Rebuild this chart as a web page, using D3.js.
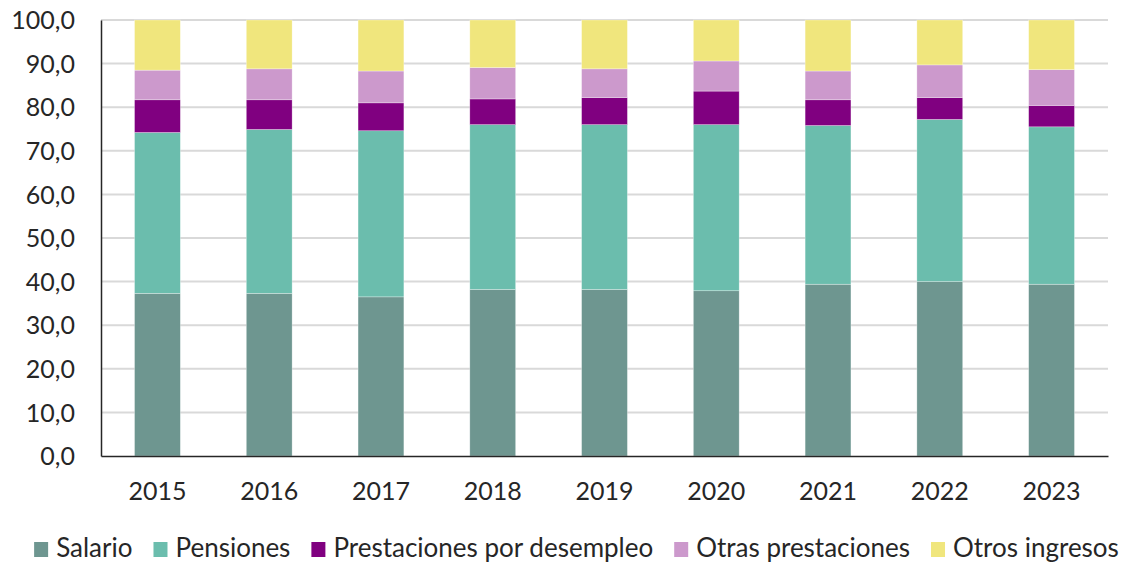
<!DOCTYPE html>
<html>
<head>
<meta charset="utf-8">
<script src="https://cdn.jsdelivr.net/npm/d3@7"></script>
<style>
  body { margin: 0; background: #fff; }
  text { font-family: Lato, "Open Sans", sans-serif; fill: #262626; }
</style>
</head>
<body>
<div id="chart"></div>
<script>
// data (percent of household income)
const years = ["2015", "2016", "2017", "2018", "2019", "2020", "2021", "2022", "2023"];
const seriesNames = ["Salario", "Pensiones", "Prestaciones por desempleo", "Otras prestaciones", "Otros ingresos"];
const salario      = [37.3, 37.3, 36.5, 38.2, 38.2, 37.9, 39.4, 40.0, 39.4];
const pensiones    = [36.9, 37.6, 38.1, 37.8, 37.8, 38.1, 36.4, 37.2, 36.1];
const desempleo    = [7.5, 6.8, 6.4, 5.9, 6.2, 7.7, 5.9, 5.0, 4.9];
const otrasPrest   = [6.8, 7.1, 7.3, 7.2, 6.6, 6.9, 6.6, 7.5, 8.2];
const otrosIngr    = [11.5, 11.2, 11.7, 10.9, 11.2, 9.4, 11.7, 10.3, 11.4];
const yTicks = [0, 10, 20, 30, 40, 50, 60, 70, 80, 90, 100];
const colors = ["#6e9690", "#6bbdad", "#800080", "#cc99cc", "#f0e67d"];

const W = 1128, H = 564;
const m = {top: 20, right: 20, bottom: 108, left: 101};

const rows = years.map((y, i) => ({
  year: y,
  "Salario": salario[i],
  "Pensiones": pensiones[i],
  "Prestaciones por desempleo": desempleo[i],
  "Otras prestaciones": otrasPrest[i],
  "Otros ingresos": otrosIngr[i]
}));

const svg = d3.select("#chart").append("svg")
  .attr("width", W)
  .attr("height", H);

const x = d3.scaleBand().domain(years)
  .range([m.left, W - m.right])
  .paddingInner(0.59).paddingOuter(0.3);
const y = d3.scaleLinear().domain([0, 100]).range([H - m.bottom, m.top]);

// gridlines
svg.append("g").selectAll("line")
  .data(yTicks.slice(1))
  .join("line")
  .attr("x1", m.left).attr("x2", W - m.right)
  .attr("y1", d => y(d)).attr("y2", d => y(d))
  .attr("stroke", "#d9d9d9").attr("stroke-width", 2);

// stacked bars
const stacked = d3.stack().keys(seriesNames)(rows);
svg.append("g").selectAll("g")
  .data(stacked)
  .join("g")
  .attr("fill", (d, i) => colors[i])
  .selectAll("rect")
  .data(d => d)
  .join("rect")
  .attr("x", d => x(d.data.year))
  .attr("width", x.bandwidth())
  .attr("y", d => y(Math.min(d[1], 100)))
  .attr("height", d => y(d[0]) - y(Math.min(d[1], 100)))
  .attr("stroke", "#fff").attr("stroke-width", 0.6).attr("stroke-opacity", 0.5);

// axes
const fmt = d => d3.format(".1f")(d).replace(".", ",");
const yAxis = svg.append("g")
  .attr("transform", "translate(" + m.left + ",0)")
  .call(d3.axisLeft(y).tickValues(yTicks).tickFormat(fmt).tickSize(0).tickPadding(26));
yAxis.select(".domain").attr("stroke", "#262626").attr("stroke-width", 1.5);
yAxis.selectAll("text").style("font-size", "25px").attr("dy", "0.35em").attr("fill", "#262626");

const xAxis = svg.append("g")
  .attr("transform", "translate(0," + y(0) + ")")
  .call(d3.axisBottom(x).tickSize(0).tickPadding(26));
xAxis.select(".domain").attr("stroke", "#262626").attr("stroke-width", 1.5);
xAxis.selectAll("text").style("font-size", "25px").attr("fill", "#262626");

// legend
const legend = svg.append("g").attr("class", "legend");
const items = legend.selectAll("g")
  .data(seriesNames)
  .join("g");
items.append("rect")
  .attr("width", 14).attr("height", 15)
  .attr("y", -15)
  .attr("fill", (d, i) => colors[i]);
items.append("text")
  .attr("x", 22)
  .style("font-size", "26px")
  .text(d => d);

let cx = 0;
const gap = 21;
items.each(function() {
  const w = this.getBBox().width;
  d3.select(this).attr("transform", "translate(" + cx + ",0)");
  cx += w + gap;
});
const total = cx - gap;
legend.attr("transform", "translate(" + (576.5 - total / 2) + ",557)");
</script>
</body>
</html>
